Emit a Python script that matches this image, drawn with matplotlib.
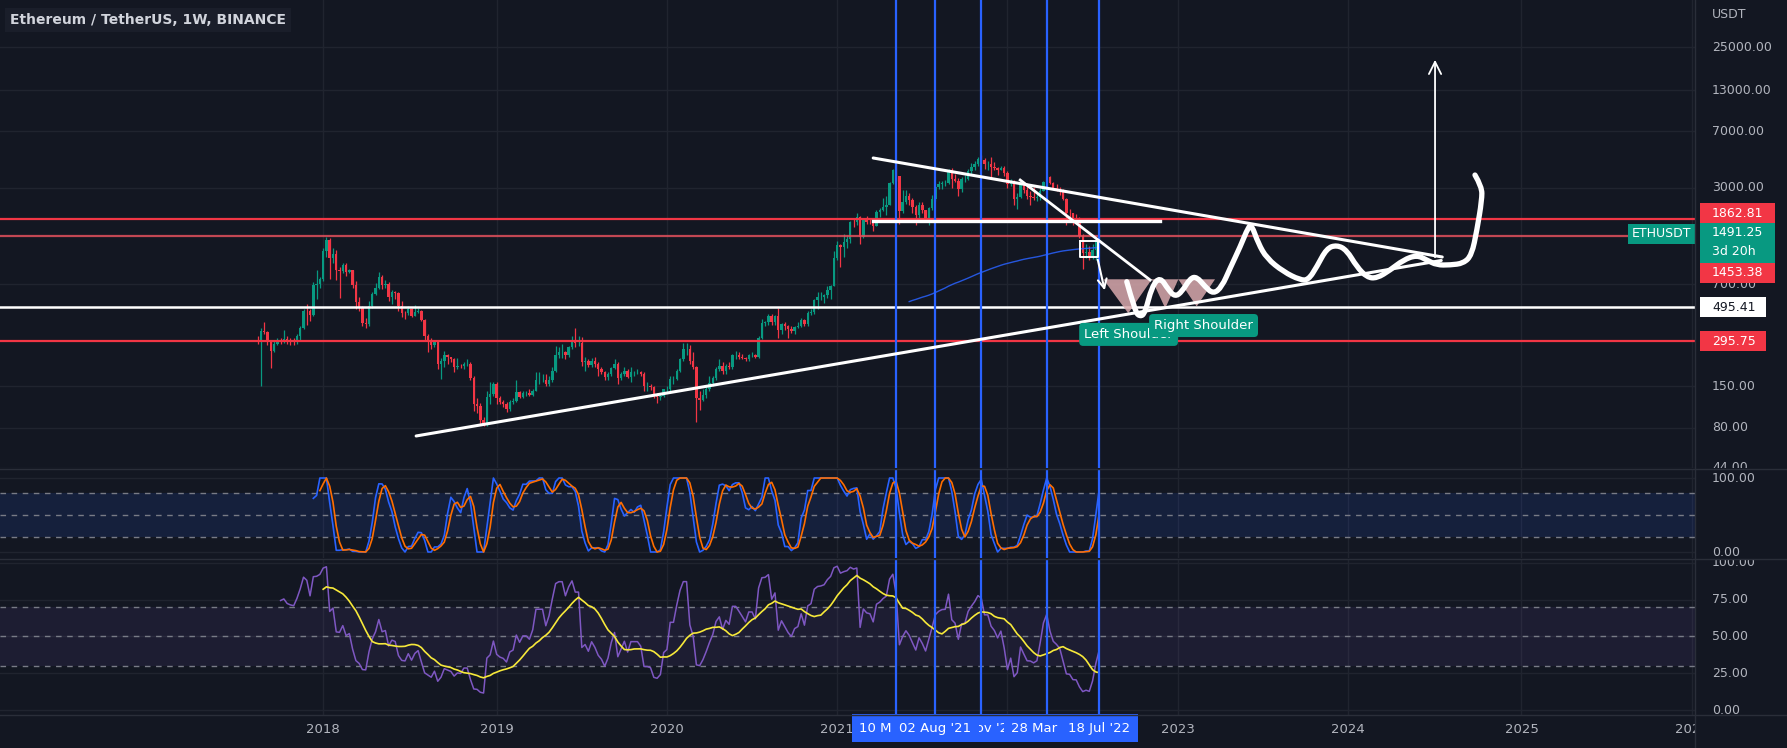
import matplotlib
matplotlib.use("Agg")
import matplotlib.pyplot as plt
from matplotlib.lines import Line2D
from matplotlib.patches import Polygon, Rectangle, PathPatch
from matplotlib.path import Path
from matplotlib.ticker import NullLocator
from matplotlib.transforms import IdentityTransform
import numpy as np
import pandas as pd

# weekly ETH/USDT candles (Binance), bar 0 is the week of 2017-08-14
start_week = pd.Timestamp("2017-08-14")
first_open = 301.0

close_2017 = [300, 345, 340, 295, 255, 285, 300, 297, 305, 298, 296, 295, 318, 360, 470, 465, 440, 690, 700, 755]
high_2017 = [320, 360, 395, 345, 300, 300, 310, 310, 350, 320, 310, 310, 330, 370, 480, 520, 480, 720, 870, 780]
low_2017 = [285, 150, 330, 280, 197, 250, 280, 285, 290, 285, 280, 280, 285, 300, 355, 380, 400, 430, 560, 660]

close_2018 = [1150, 1370, 1045, 1110, 860, 855, 940, 840, 860, 695, 535, 490, 390, 385, 500, 600, 660, 780, 690, 700,
              580, 620, 610, 500, 455, 450, 480, 435, 460, 470, 405, 320, 300, 280, 295, 210, 220, 240, 232, 225,
              200, 205, 203, 210, 210, 170, 115, 112, 90, 84, 128, 133]
high_2018 = [1200, 1420, 1400, 1200, 1170, 900, 960, 960, 880, 870, 730, 580, 500, 420, 540, 620, 710, 840, 800, 740,
             720, 640, 630, 620, 545, 470, 500, 490, 510, 490, 475, 415, 330, 310, 300, 300, 230, 255, 245, 235,
             230, 230, 210, 215, 225, 215, 175, 125, 117, 95, 140, 160]
low_2018 = [730, 1050, 760, 960, 750, 570, 830, 790, 830, 660, 480, 470, 370, 360, 370, 490, 590, 650, 650, 660,
            540, 520, 560, 470, 425, 415, 440, 425, 430, 450, 400, 300, 250, 265, 270, 195, 168, 200, 210, 215,
            185, 195, 198, 195, 205, 165, 103, 100, 85, 82, 83, 115]

close_2019 = [155, 125, 118, 115, 107, 118, 120, 137, 128, 135, 135, 132, 140, 165, 165, 165, 155, 165, 190, 240,
              250, 250, 240, 270, 300, 290, 290, 215, 220, 206, 220, 210, 195, 187, 172, 180, 197, 210, 170, 180,
              190, 172, 185, 185, 185, 180, 150, 150, 148, 130, 128, 130]
high_2019 = [160, 160, 130, 122, 118, 122, 125, 165, 140, 140, 140, 145, 145, 185, 185, 180, 180, 175, 200, 275,
             270, 285, 255, 275, 320, 363, 320, 315, 235, 225, 230, 235, 215, 200, 190, 185, 200, 225, 215, 185,
             200, 195, 200, 190, 195, 190, 185, 160, 155, 150, 135, 135]
low_2019 = [130, 115, 115, 110, 102, 103, 115, 118, 125, 125, 130, 130, 130, 140, 155, 160, 150, 150, 160, 185,
            230, 230, 225, 235, 265, 270, 275, 205, 190, 200, 200, 200, 175, 180, 165, 165, 175, 195, 155, 165,
            175, 170, 160, 175, 180, 175, 140, 140, 142, 125, 117, 122]

close_2020 = [143, 145, 168, 168, 190, 225, 265, 265, 218, 200, 125, 122, 131, 143, 157, 170, 195, 205, 188, 205,
              200, 240, 240, 235, 230, 225, 240, 240, 235, 310, 390, 395, 430, 395, 430, 350, 385, 370, 355, 345,
              365, 370, 405, 385, 450, 460, 550, 575, 580, 590, 640, 685]
high_2020 = [145, 150, 175, 175, 195, 230, 290, 290, 280, 250, 205, 140, 145, 150, 175, 175, 200, 228, 215, 210,
             215, 245, 255, 250, 245, 235, 245, 250, 245, 320, 415, 400, 445, 445, 440, 490, 390, 395, 380, 370,
             375, 395, 420, 415, 465, 480, 560, 620, 620, 600, 680, 690]
low_2020 = [128, 135, 140, 155, 165, 185, 220, 240, 210, 195, 88, 105, 120, 125, 140, 150, 165, 190, 180, 180,
            195, 195, 225, 225, 225, 220, 220, 235, 230, 230, 305, 370, 380, 380, 380, 310, 330, 350, 310, 335,
            330, 360, 365, 370, 375, 440, 445, 480, 550, 530, 570, 560]

close_2021 = [1040, 1260, 1230, 1320, 1390, 1800, 1790, 1935, 1420, 1840, 1790, 1780, 1690, 2080, 2140, 2240, 2310, 3240, 3900, 3580,
              2100, 2430, 2660, 2500, 2240, 1975, 2325, 2140, 1890, 2190, 2540, 3010, 3150, 3220, 3230, 3930, 3410, 3330, 2920, 3400,
              3420, 3850, 4080, 4290, 4610, 4570, 4300, 4300, 4120, 4050, 3930, 4040]
high_2021 = [1150, 1350, 1280, 1480, 1470, 1810, 1870, 2040, 1970, 1850, 1950, 1880, 1800, 2150, 2200, 2550, 2650, 3250, 4000, 4372,
             3600, 2900, 2900, 2750, 2580, 2300, 2400, 2400, 2150, 2250, 2700, 3200, 3340, 3340, 3375, 3950, 4030, 3680, 3470, 3500,
             3650, 3960, 4380, 4460, 4780, 4870, 4700, 4500, 4780, 4400, 4100, 4150]
low_2021 = [680, 1000, 900, 1050, 1210, 1300, 1660, 1720, 1290, 1410, 1730, 1725, 1550, 1680, 1930, 2100, 2000, 2300, 3150, 3300,
            1730, 2050, 2350, 2300, 2040, 1700, 1900, 2050, 1850, 1720, 2150, 2450, 2950, 2950, 3080, 3150, 3000, 3250, 2650, 2800,
            3250, 3380, 3690, 3900, 4150, 4350, 3950, 3900, 3500, 3900, 3640, 3900]

close_2022 = [3760, 3150, 3330, 2530, 2600, 3120, 2880, 2630, 2620, 2560, 2590, 2860, 3280, 3520, 3210, 2990, 2920, 2830, 2520, 2060,
              2040, 1810, 1800, 1450, 1125, 1140, 1070, 1165, 1340, 1491.25]
high_2022 = [4150, 3880, 3410, 3380, 2750, 3150, 3280, 3200, 2840, 3050, 2820, 3000, 3300, 3580, 3570, 3250, 3190, 3030, 2960, 2550,
             2160, 2060, 2020, 1920, 1500, 1280, 1240, 1280, 1390, 1650]
low_2022 = [3600, 2990, 3070, 2300, 2160, 2580, 2750, 2520, 2300, 2500, 2450, 2500, 2850, 3250, 3150, 2950, 2870, 2700, 2500, 1700,
            1920, 1700, 1730, 1400, 880, 1040, 1000, 1030, 1000, 1330]

# horizontal levels and their axis labels
level_prices = [1862.81, 1453.38, 495.41, 295.75]
last_price = 1491.25
price_ticks = [25000, 13000, 7000, 3000, 700, 150, 80, 44]
stoch_ticks = [100, 0]
rsi_ticks = [100, 75, 50, 25, 0]

# time axis
year_dates = ["2018-01-01", "2019-01-07", "2020-01-06", "2021-01-04", "2022-01-03",
              "2023-01-02", "2024-01-01", "2025-01-06", "2026-01-05"]
year_labels = ["2018", "2019", "2020", "2021", "2022", "2023", "2024", "2025", "2026"]
marker_dates = ["2021-05-10", "2021-08-02", "2021-11-08", "2022-03-28", "2022-07-18"]
marker_labels = ["10 May '21", "02 Aug '21", "08 Nov '21", "28 Mar '22", "18 Jul '22"]
marker_order = [0, 2, 1, 3, 4]   # stacking of the date badges

# drawings, in (week number, price)
lower_trend_wk = [48.4, 361.5]
lower_trend_px = [70.9, 1000]
upper_trend_wk = [188.0, 361.8]
upper_trend_px = [4690, 1054]
steep_trend_wk = [232.9, 272.6]
steep_trend_px = [3365, 745]
flat_line_wk = [188.0, 275.7]
flat_line_px = [1820, 1820]
box_wk = [251.2, 256.7]
box_px = [1054, 1341]
drop_arrow_wk = [256.4, 258.9]
drop_arrow_px = [1054, 612]
target_arrow_wk = 359.6
target_arrow_px = [1007, 21500]
wave_wk = [265.45, 268.0, 269.5, 271.0, 273.1, 275.6, 278.2, 280.2, 282.3, 284.8, 286.8, 289.4, 291.9, 294.5,
           297.0, 300.1, 302.6, 303.6, 305.6, 308.2, 313.3, 318.4, 320.9, 323.5, 326.5, 329.6, 332.6, 335.7,
           338.8, 341.8, 345.9, 349.9, 354.0, 357.1, 360.1, 364.2, 368.3, 370.8, 372.4, 373.9, 373.9, 371.8]
wave_px = [726, 462, 428, 451, 673, 783, 641, 579, 624, 764, 783, 673, 603, 673,
           889, 1231, 1664, 1708, 1296, 1033, 844, 745, 745, 910, 1201, 1263, 1171, 910,
           776, 764, 866, 1007, 1086, 1007, 934, 934, 958, 1086, 1584, 2489, 3042, 3628]
hs_wk = [258.3, 265.9, 273.1, 277.2, 281.2, 286.8, 292.4]
hs_px = [753, 451, 753, 486, 753, 500, 753]
hs_labels = ["Left Shoulder", "Right Shoulder"]
hs_label_wk = [266.0, 288.9]
hs_label_px = [328, 375]

BG = "#131722"
GRID = "#20242f"
TXT = "#B2B5BE"
GREEN = "#089981"
RED = "#F23645"
BLUE = "#2962FF"

close = np.array(close_2017 + close_2018 + close_2019 + close_2020 + close_2021 + close_2022, dtype=float)
high = np.array(high_2017 + high_2018 + high_2019 + high_2020 + high_2021 + high_2022, dtype=float)
low = np.array(low_2017 + low_2018 + low_2019 + low_2020 + low_2021 + low_2022, dtype=float)
opens = np.r_[first_open, close[:-1]]
wk = np.arange(len(close))


def week_no(d):
    return (pd.Timestamp(d) - start_week).days / 7.0


def rsi(src, n):
    d = src.diff()
    up = d.clip(lower=0).ewm(alpha=1.0 / n, adjust=False, min_periods=n).mean()
    dn = (-d.clip(upper=0)).ewm(alpha=1.0 / n, adjust=False, min_periods=n).mean()
    return 100 - 100 / (1 + up / dn)


# indicators are derived from the closes, as on the source chart
cs = pd.Series(close)
r8 = rsi(cs, 8)
lo, hi = r8.rolling(8).min(), r8.rolling(8).max()
stoch_k = (100 * (r8 - lo) / (hi - lo)).rolling(3).mean()
stoch_d = stoch_k.rolling(3).mean()
r = rsi(cs, 7)
rsi_ma = r.rolling(14).mean()
sma200 = cs.rolling(200).mean()

W, H = 1787, 748
XR = 1695
fig = plt.figure(figsize=(W / 100, H / 100), dpi=100, facecolor=BG)


def pane(top, bottom, left=0, right=XR):
    a = fig.add_axes([left / W, 1 - bottom / H, (right - left) / W, (bottom - top) / H])
    a.set_facecolor(BG)
    for s in a.spines.values():
        s.set_visible(False)
    return a


xlim = (-78.7, 439.0)
ax = pane(0, 468)
ax_s = pane(469, 558)
ax_r = pane(559, 715)
ax_t = pane(715, 748)
ax_p = pane(0, 468, XR + 1, W)
ax_sp = pane(469, 558, XR + 1, W)
ax_rp = pane(559, 715, XR + 1, W)

ax.set_yscale("log")
ax_p.set_yscale("log")
for a in (ax, ax_p):
    a.set_ylim(43.75, 50800)
for a in (ax_s, ax_sp):
    a.set_ylim(-8.1, 112.2)
for a in (ax_r, ax_rp):
    a.set_ylim(-3.4, 102.7)
for a in (ax, ax_s, ax_r, ax_t):
    a.set_xlim(*xlim)
for a in (ax_p, ax_sp, ax_rp):
    a.set_xlim(0, 1)
ax_t.set_ylim(0, 1)
for a in (ax, ax_s, ax_r, ax_t, ax_p, ax_sp, ax_rp):
    for axis in (a.xaxis, a.yaxis):
        axis.set_major_locator(NullLocator())
        axis.set_minor_locator(NullLocator())

year_wk = [week_no(d) for d in year_dates]
marker_wk = [week_no(d) for d in marker_dates]

# grid
for a in (ax, ax_s, ax_r):
    for x in year_wk:
        a.axvline(x, color=GRID, lw=1, zorder=0)
for p in price_ticks:
    ax.axhline(p, color=GRID, lw=1, zorder=0)
for v in stoch_ticks:
    ax_s.axhline(v, color=GRID, lw=1, zorder=0)
for v in rsi_ticks:
    ax_r.axhline(v, color=GRID, lw=1, zorder=0)

# candles
colors = np.where(close >= opens, GREEN, RED)
ax.vlines(wk, low, high, colors=colors, lw=0.9, zorder=2)
ax.bar(wk, np.abs(close - opens), bottom=np.minimum(opens, close), width=0.74,
       color=colors, lw=0, zorder=2)
ax.plot(wk, sma200, color=BLUE, lw=1.0, alpha=0.85, zorder=2)

# levels
ax.axhline(level_prices[0], color=RED, lw=1.6, zorder=3)
ax.axhline(level_prices[1], color="#E2505C", lw=1.6, alpha=0.85, zorder=3)
ax.axhline(level_prices[2], color="white", lw=1.8, zorder=3)
ax.axhline(level_prices[3], color=RED, lw=1.6, zorder=3)

# marked weeks
for a in (ax, ax_s, ax_r):
    for x in marker_wk:
        a.axvline(x, color=BLUE, lw=1.6, zorder=4)

# drawings
ax.plot(lower_trend_wk, lower_trend_px, color="white", lw=2.2, zorder=5, solid_capstyle="round")
ax.plot(upper_trend_wk, upper_trend_px, color="white", lw=2.2, zorder=5, solid_capstyle="round")
ax.plot(steep_trend_wk, steep_trend_px, color="white", lw=2.0, zorder=5)
ax.plot(flat_line_wk, flat_line_px, color="white", lw=2.4, zorder=5)
ax.plot([box_wk[0], box_wk[1], box_wk[1], box_wk[0], box_wk[0]],
        [box_px[1], box_px[1], box_px[0], box_px[0], box_px[1]], color="white", lw=1.4, zorder=5)
ax.annotate("", xy=(drop_arrow_wk[1], drop_arrow_px[1]), xytext=(drop_arrow_wk[0], drop_arrow_px[0]),
            arrowprops=dict(arrowstyle="->", color="white", lw=1.5, mutation_scale=16), zorder=5)
ax.annotate("", xy=(target_arrow_wk, target_arrow_px[1]), xytext=(target_arrow_wk, target_arrow_px[0]),
            arrowprops=dict(arrowstyle="->", color="white", lw=1.3, mutation_scale=22), zorder=5)
hs = Polygon(np.column_stack([hs_wk, hs_px]), closed=True, fc="#D9A9AD", ec="none", alpha=0.85, zorder=4)
ax.add_patch(hs)

# freehand path: read points used as quadratic bezier controls
verts = [(wave_wk[0], wave_px[0])]
codes = [Path.MOVETO]
for k in range(1, len(wave_wk) - 1):
    mid = ((wave_wk[k] + wave_wk[k + 1]) / 2, np.sqrt(wave_px[k] * wave_px[k + 1]))
    if k == len(wave_wk) - 2:
        mid = (wave_wk[-1], wave_px[-1])
    verts += [(wave_wk[k], wave_px[k]), mid]
    codes += [Path.CURVE3, Path.CURVE3]
ax.add_patch(PathPatch(Path(verts, codes), fill=False, ec="white", lw=3.8, zorder=6,
                       capstyle="round", joinstyle="round"))

for lbl, x, p in zip(hs_labels, hs_label_wk, hs_label_px):
    ax.text(x, p, lbl, ha="center", va="center", color="white", fontsize=9.5, zorder=7,
            bbox=dict(boxstyle="round,pad=0.38,rounding_size=0.3", fc=GREEN, ec="none"))
ax.annotate("ETHUSDT", xy=(1.0, last_price), xycoords=("axes fraction", "data"), xytext=(-4, 0),
            textcoords="offset pixels", ha="right", va="center", color="white", fontsize=9, zorder=7,
            bbox=dict(boxstyle="square,pad=0.3", fc=GREEN, ec="none"))

# stoch rsi pane
ax_s.axhspan(20, 80, color=BLUE, alpha=0.12, lw=0, zorder=0)
for v in (80, 50, 20):
    ax_s.axhline(v, color="#787B86", lw=1, ls=(0, (4, 4)), zorder=1)
ax_s.plot(wk, stoch_k, color=BLUE, lw=1.2, zorder=3)
ax_s.plot(wk, stoch_d, color="#FF6D00", lw=1.2, zorder=3)

# rsi pane
ax_r.axhspan(30, 70, color="#7E57C2", alpha=0.1, lw=0, zorder=0)
for v in (70, 50, 30):
    ax_r.axhline(v, color="#787B86", lw=1, ls=(0, (4, 4)), zorder=1)
ax_r.plot(wk, r, color="#7E57C2", lw=1.1, zorder=3)
ax_r.plot(wk, rsi_ma, color="#F7E93A", lw=1.2, zorder=3)

# price scales
tx = (1712 - XR - 1) / (W - XR - 1)
for p in price_ticks:
    ax_p.text(tx, p, f"{p:.2f}", transform=ax_p.get_yaxis_transform(), va="center", ha="left",
              color=TXT, fontsize=9, clip_on=True)
for v in stoch_ticks:
    ax_sp.text(tx, v, f"{v:.2f}", transform=ax_sp.get_yaxis_transform(), va="center", ha="left",
               color=TXT, fontsize=9, clip_on=True)
for v in rsi_ticks:
    ax_rp.text(tx, v, f"{v:.2f}", transform=ax_rp.get_yaxis_transform(), va="center", ha="left",
               color=TXT, fontsize=9, clip_on=True)


def price_box(p, lines, fc, tc, dy, w):
    # y in pixels from the bottom of the image
    yc = ax_p.transData.transform((0.5, p))[1] - dy
    h = 20 * len(lines)
    fig.add_artist(Rectangle((1700, yc - h / 2), w, h, transform=IdentityTransform(),
                             fc=fc, ec="none", zorder=5))
    for n, s in enumerate(lines):
        fig.text(1712, yc + h / 2 - 10 - 18 * n - (1 if n else 0), s, transform=IdentityTransform(),
                 color=tc, fontsize=9, va="center", ha="left", zorder=6)


price_box(level_prices[0], [f"{level_prices[0]:.2f}"], RED, "white", -6, 75)
price_box(last_price, [f"{last_price:.2f}", "3d 20h"], GREEN, "white", 9, 75)
price_box(level_prices[1], [f"{level_prices[1]:.2f}"], RED, "white", 37, 75)
price_box(level_prices[2], [f"{level_prices[2]:.2f}"], "white", "#131722", 0, 66)
price_box(level_prices[3], [f"{level_prices[3]:.2f}"], RED, "white", 0, 66)
fig.text(1712 / W, 1 - 15 / H, "USDT", color=TXT, fontsize=9, va="center", ha="left")

# time scale
for x, lbl in zip(year_wk, year_labels):
    ax_t.text(x, 0.55, lbl, ha="center", va="center", color=TXT, fontsize=9.5, clip_on=True)
for z, k in enumerate(marker_order):
    ax_t.text(marker_wk[k], 0.6, marker_labels[k], ha="center", va="center", color="white",
              fontsize=9.5, zorder=5 + z, clip_on=False,
              bbox=dict(boxstyle="square,pad=0.58", fc=BLUE, ec="none"))

# pane borders
for y in (468.5, 558.5, 715):
    fig.add_artist(Line2D([0, 1], [1 - y / H] * 2, color="#2A2E39", lw=1))
fig.add_artist(Line2D([XR / W] * 2, [0, 1], color="#2A2E39", lw=1))

fig.text(10 / W, 1 - 20 / H, "Ethereum / TetherUS, 1W, BINANCE", color="#D1D4DC", fontsize=10,
         fontweight="bold", va="center", ha="left",
         bbox=dict(boxstyle="square,pad=0.35", fc="#1A1E2A", ec="none"))

fig.savefig("out.png", dpi=100, facecolor=BG)
